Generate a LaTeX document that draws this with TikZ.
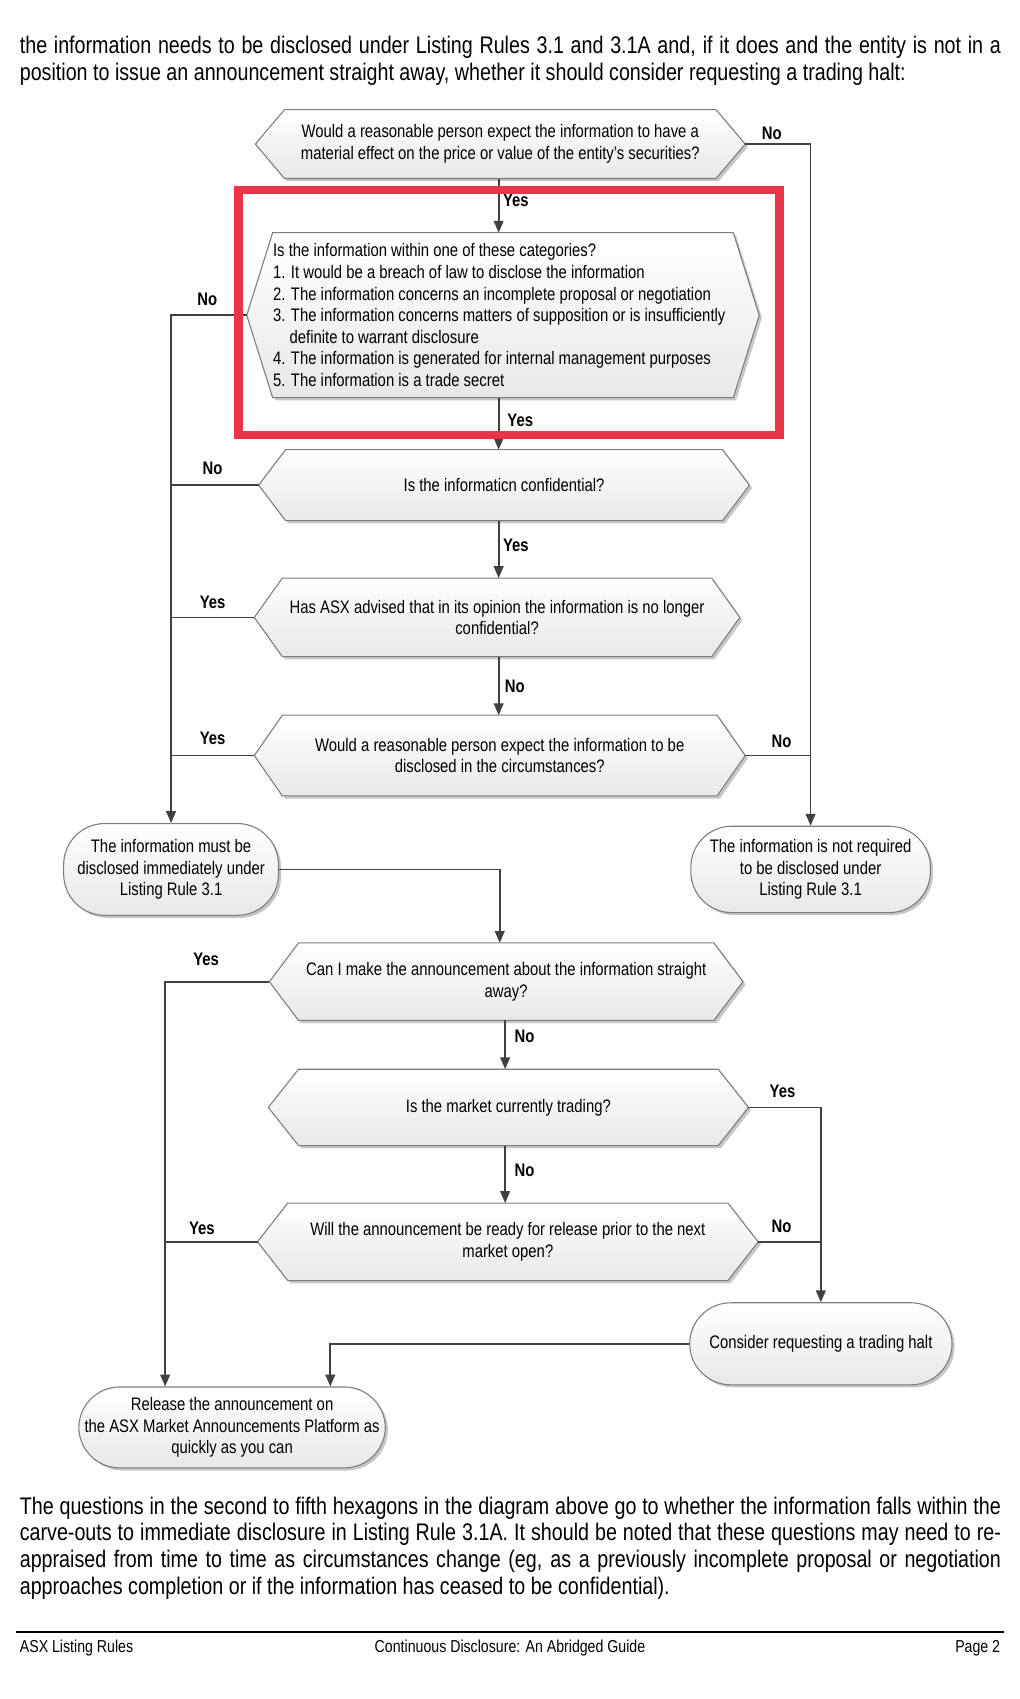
\documentclass[tikz,border=0pt]{standalone}
\usepackage{fontspec}
\setmainfont{Liberation Sans}[FakeStretch=0.82]
\usetikzlibrary{arrows.meta,shadows}
\pgfdeclarelayer{background}
\pgfsetlayers{background,main}
\definecolor{framered}{RGB}{232,54,72}
\definecolor{linecol}{RGB}{64,64,64}
\definecolor{hexborder}{RGB}{125,125,125}
\newcommand\flowfont{\fontsize{8.4}{10}\selectfont}
\newcommand\parafont{\fontsize{11.12}{12.5}\selectfont}
\newcommand\footfont{\fontsize{8.0}{10}\selectfont}
\newcommand\hexpath[4]{([shift={(#3,#4)}]#1.west) -- ([shift={(#2+#3,#4)}]#1.north west) -- ([shift={(-#2+#3,#4)}]#1.north east) -- ([shift={(#3,#4)}]#1.east) -- ([shift={(-#2+#3,#4)}]#1.south east) -- ([shift={(#2+#3,#4)}]#1.south west) -- cycle}
\newcommand\hexbg[2]{%
  \begin{pgfonlayer}{background}
    \fill[black!22] \hexpath{#1}{#2}{2.5}{2.5};
    \shade[top color=white,bottom color=black!9,draw=hexborder,line width=0.5pt] \hexpath{#1}{#2}{0}{0};
  \end{pgfonlayer}}
\tikzset{
  hexsize/.style 2 args={minimum width=#1*0.5pt, minimum height=#2*0.5pt},
  hexnode/.style={rectangle, inner sep=0pt, align=center, font=\flowfont},
  termnode/.style={rectangle, rounded corners=19pt, draw=hexborder, line width=0.5pt,
    top color=white, bottom color=black!9, align=center, font=\flowfont, inner sep=0pt,
    drop shadow={shadow xshift=1.2pt, shadow yshift=-1.2pt, fill=black!45, opacity=0.5}},
  lbl/.style={font=\flowfont\bfseries, inner sep=0pt},
  conn/.style={draw=linecol, line width=0.8pt},
  arr/.style={conn, -{Triangle[length=5.5pt,width=4.5pt]}},
  paraline/.style={anchor=base west, inner sep=0pt, font=\parafont},
  footline/.style={inner sep=0pt, font=\footfont}
}
\begin{document}
\begin{tikzpicture}[x=0.5pt,y=-0.5pt]
\begin{pgfonlayer}{background}
\fill[white] (0,0) rectangle (945,1574.1);
\end{pgfonlayer}
\useasboundingbox (0,0) rectangle (945,1574.1);

% paragraph top
\node[paraline] (p1) at (18,50) {\makebox[454.5pt][s]{the information needs to be disclosed under Listing Rules 3.1 and 3.1A and, if it does and the entity is not in a}};
\node[paraline] (p2) at (18,75) {position to issue an announcement straight away, whether it should consider requesting a trading halt:};

% hexagons
\node[hexnode, hexsize={453}{63}] (h1) at (463.5,133.5) {Would a reasonable person expect the information to have a\\material effect on the price or value of the entity’s securities?};
\node[hexnode, hexsize={474}{152}, text width=213pt, align=flush left] (h2) at (466,292) {\mbox{Is the information within one of these categories?}\\
\mbox{1. It would be a breach of law to disclose the information}\\
\mbox{2. The information concerns an incomplete proposal or negotiation}\\
\mbox{3. The information concerns matters of supposition or is insufficiently}\\
\mbox{\hphantom{3.\ }definite to warrant disclosure}\\
\mbox{4. The information is generated for internal management purposes}\\
\mbox{5. The information is a trade secret}};
\node[hexnode, hexsize={454}{65}] (h3) at (467,449.5) {Is the informaticn confidential?};
\node[hexnode, hexsize={449}{72}] (h4) at (460.5,572) {Has ASX advised that in its opinion the information is no longer\\confidential?};
\node[hexnode, hexsize={454}{74}] (h5) at (463,700) {Would a reasonable person expect the information to be\\disclosed in the circumstances?};
\node[hexnode, hexsize={438}{71}] (h6) at (469,909.5) {Can I make the announcement about the information straight\\away?};
\node[hexnode, hexsize={444}{70}] (h7) at (471,1026) {Is the market currently trading?};
\node[hexnode, hexsize={463}{71}] (h8) at (470.5,1150.5) {Will the announcement be ready for release prior to the next\\market open?};
\hexbg{h1}{27}
\hexbg{h2}{24}
\hexbg{h3}{25}
\hexbg{h4}{26}
\hexbg{h5}{26}
\hexbg{h6}{27}
\hexbg{h7}{28}
\hexbg{h8}{28}

% terminals
\node[termnode, hexsize={199}{85}] (tA) at (158.5,805.5) {The information must be\\disclosed immediately under\\Listing Rule 3.1};
\node[termnode, hexsize={222}{80}] (tB) at (751,805.5) {The information is not required\\to be disclosed under\\Listing Rule 3.1};
\node[termnode, hexsize={243}{76}] (tD) at (760.5,1245) {Consider requesting a trading halt};
\node[termnode, hexsize={284}{75}] (tC) at (215,1322.5) {Release the announcement on\\the ASX Market Announcements Platform as\\quickly as you can};

% columns
\coordinate (cA) at (462,0);
\coordinate (cB) at (463,0);
\coordinate (cC) at (468,0);
\coordinate (cL) at (153,0);
\coordinate (cM) at (306,0);

% connectors
\draw[arr] (cA |- h1.south) -- (cA |- h2.north);
\draw[arr] (cA |- h2.south) -- (cA |- h3.north);
\draw[arr] (cA |- h3.south) -- (cA |- h4.north);
\draw[arr] (cA |- h4.south) -- (cA |- h5.north);
\draw[arr] (h1.east) -| (tB.north);
\draw[conn] (h5.east) -- (h5.east -| tB.north);
\draw[arr] (h2.west) -| (tA.north);
\draw[conn] (h3.west) -- (h3.west -| tA.north);
\draw[conn] (h4.west) -- (h4.west -| tA.north);
\draw[conn] (h5.west) -- (h5.west -| tA.north);
\draw[arr] (tA.east) -| (cB |- h6.north);
\draw[arr] (cC |- h6.south) -- (cC |- h7.north);
\draw[arr] (cC |- h7.south) -- (cC |- h8.north);
\draw[arr] (h6.west) -| (cL |- tC.north);
\draw[conn] (h8.west) -- (h8.west -| cL);
\draw[arr] (h7.east) -| (tD.north);
\draw[conn] (h8.east) -- (h8.east -| tD.north);
\draw[arr] (tD.west) -| (cM |- tC.north);

% labels
\node[lbl] (l1) at (715,124) {No};
\node[lbl] (l2) at (478,186) {Yes};
\node[lbl] (l3) at (192,277) {No};
\node[lbl] (l4) at (482,389) {Yes};
\node[lbl] (l5) at (197,434) {No};
\node[lbl] (l6) at (478,505) {Yes};
\node[lbl] (l7) at (197,558) {Yes};
\node[lbl] (l8) at (477,636) {No};
\node[lbl] (l9) at (197,684) {Yes};
\node[lbl] (l10) at (724,687) {No};
\node[lbl] (l11) at (191,889) {Yes};
\node[lbl] (l12) at (486,960) {No};
\node[lbl] (l13) at (725,1011) {Yes};
\node[lbl] (l14) at (486,1084) {No};
\node[lbl] (l15) at (187,1138) {Yes};
\node[lbl] (l16) at (724,1136) {No};

% red highlight frame
\draw[framered, line width=4pt] (221,176) rectangle (722,403);

% paragraph bottom
\node[paraline] (p3) at (18,1403) {\makebox[454.5pt][s]{The questions in the second to fifth hexagons in the diagram above go to whether the information falls within the}};
\node[paraline] (p4) at (18,1427) {\makebox[454.5pt][s]{carve-outs to immediate disclosure in Listing Rule 3.1A. It should be noted that these questions may need to re-}};
\node[paraline] (p5) at (18,1452) {\makebox[454.5pt][s]{appraised from time to time as circumstances change (eg, as a previously incomplete proposal or negotiation}};
\node[paraline] (p6) at (18,1477) {approaches completion or if the information has ceased to be confidential).};

% footer
\draw[line width=1pt] (15,1512) -- (930,1512);
\node[footline, anchor=base west] (f1) at (18,1531) {ASX Listing Rules};
\node[footline, anchor=base] (f2) at (472.5,1531) {Continuous Disclosure: An Abridged Guide};
\node[footline, anchor=base east] (f3) at (927,1531) {Page 2};
\end{tikzpicture}
\end{document}
